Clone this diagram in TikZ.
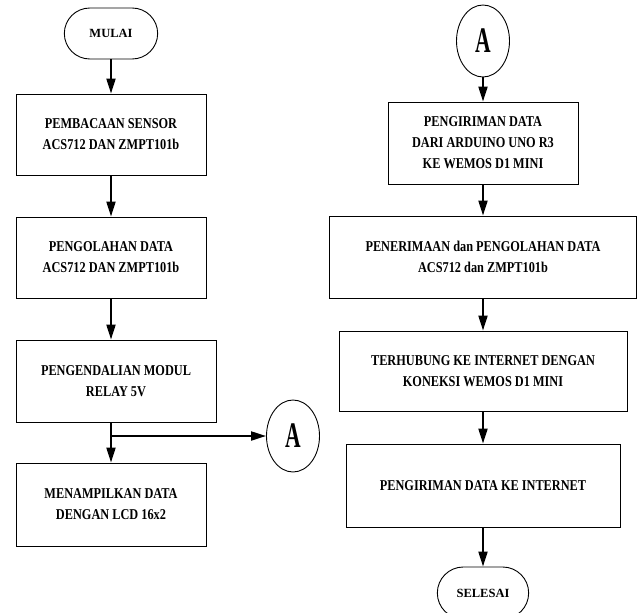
\documentclass[tikz,border=0pt]{standalone}
\usepackage{fontspec}
\setmainfont{Liberation Serif}[FakeStretch=0.82]
\newfontfamily\terminalfont{Liberation Serif}
\newfontfamily\letterfont{Liberation Serif}[FakeStretch=0.6]
\usetikzlibrary{arrows.meta,shapes.geometric,shapes.misc}

\begin{document}
\begin{tikzpicture}[x=1pt,y=-1pt,
    proses/.style={draw, line width=0.9pt, inner sep=0pt, align=center,
        font=\bfseries\fontsize{15}{21}\selectfont},
    terminal/.style={draw, line width=0.9pt, rounded rectangle,
        minimum width=100pt, minimum height=51pt,
        font=\terminalfont\bfseries\fontsize{12.5}{15}\selectfont},
    konektor/.style={draw, line width=0.9pt, ellipse, inner sep=0pt,
        minimum width=53pt, minimum height=72pt,
        font=\letterfont\bfseries\fontsize{36}{36}\selectfont},
    alur/.style={line width=2pt, -{Triangle[length=15pt,width=9pt]}}]
\useasboundingbox (0,0) rectangle (643,613);

% kolom kiri
\node[terminal] (mulai) at (111,33.5) {MULAI};
\node[proses, minimum width=190pt, minimum height=81pt] (baca) at (111,134.5)
    {PEMBACAAN SENSOR\\ACS712 DAN ZMPT101b};
\node[proses, minimum width=190pt, minimum height=81pt] (olah) at (111,257.5)
    {PENGOLAHAN DATA\\ACS712 DAN ZMPT101b};
\node[proses, minimum width=200pt, minimum height=82pt] (relay) at (116,381)
    {PENGENDALIAN MODUL\\RELAY 5V};
\node[proses, minimum width=190pt, minimum height=83pt] (lcd) at (111,504.5)
    {MENAMPILKAN DATA\\DENGAN LCD 16x2};
\node[konektor] (a1) at (293,436) {A};

% kolom kanan
\node[konektor] (a2) at (483,41) {A};
\node[proses, minimum width=190pt, minimum height=82pt] (kirim) at (483,143)
    {PENGIRIMAN DATA\\DARI ARDUINO UNO R3\\KE WEMOS D1 MINI};
\node[proses, minimum width=307pt, minimum height=82pt] (terima) at (483,257)
    {PENERIMAAN dan PENGOLAHAN DATA\\ACS712 dan ZMPT101b};
\node[proses, minimum width=288pt, minimum height=80pt] (internet) at (483,371)
    {TERHUBUNG KE INTERNET DENGAN\\KONEKSI WEMOS D1 MINI};
\node[proses, minimum width=274pt, minimum height=83pt] (kirimnet) at (483,485.5)
    {PENGIRIMAN DATA KE INTERNET};
\node[terminal, minimum width=98pt, minimum height=52pt] (selesai) at (483,593)
    {SELESAI};

% alur kiri
\draw[alur] (mulai.south) -- (baca.north);
\draw[alur] (baca.south) -- (olah.north);
\draw[alur] (olah.south) -- (olah.south |- relay.north);
\draw[alur] (lcd.north |- relay.south) -- (lcd.north);
\coordinate (cabang) at (lcd.north |- a1.west);
\draw[alur] (cabang) -- (a1.west);

% alur kanan
\draw[alur] (a2.south) -- (kirim.north);
\draw[alur] (kirim.south) -- (terima.north);
\draw[alur] (terima.south) -- (internet.north);
\draw[alur] (internet.south) -- (kirimnet.north);
\draw[alur] (kirimnet.south) -- (selesai.north);
\end{tikzpicture}
\end{document}
